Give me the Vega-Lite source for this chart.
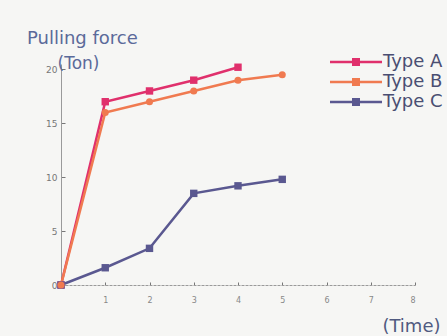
{
  "$schema": "https://vega.github.io/schema/vega-lite/v6.json",
  "autosize": "none",
  "width": 354,
  "height": 221,
  "padding": {"left": 61, "top": 64, "right": 32, "bottom": 51},
  "background": "#f6f6f4",
  "config": {
    "view": {"stroke": null},
    "font": "DejaVu Sans"
  },
  "title": {
    "text": "Pulling force",
    "anchor": "start",
    "frame": "group",
    "orient": "top",
    "dx": -34,
    "dy": 29,
    "offset": 19,
    "baseline": "alphabetic",
    "fontSize": 18,
    "fontWeight": "normal",
    "color": "#5b6a9a"
  },
  "data": {
    "values": [
      {"time": 0, "force": 0, "type": "Type A"},
      {"time": 1, "force": 17, "type": "Type A"},
      {"time": 2, "force": 18, "type": "Type A"},
      {"time": 3, "force": 19, "type": "Type A"},
      {"time": 4, "force": 20.2, "type": "Type A"},
      {"time": 0, "force": 0, "type": "Type B"},
      {"time": 1, "force": 16, "type": "Type B"},
      {"time": 2, "force": 17, "type": "Type B"},
      {"time": 3, "force": 18, "type": "Type B"},
      {"time": 4, "force": 19, "type": "Type B"},
      {"time": 5, "force": 19.5, "type": "Type B"},
      {"time": 0, "force": 0, "type": "Type C"},
      {"time": 1, "force": 1.6, "type": "Type C"},
      {"time": 2, "force": 3.4, "type": "Type C"},
      {"time": 3, "force": 8.5, "type": "Type C"},
      {"time": 4, "force": 9.2, "type": "Type C"},
      {"time": 5, "force": 9.8, "type": "Type C"}
    ]
  },
  "encoding": {
    "x": {
      "field": "time", "type": "quantitative",
      "scale": {"domain": [0, 8], "nice": false, "zero": true},
      "axis": {
        "values": [0, 1, 2, 3, 4, 5, 6, 7, 8],
        "labelExpr": "datum.value == 0 ? '' : datum.label",
        "grid": false,
        "domainColor": "#9a9a9a",
        "domainDash": [3, 1],
        "tickColor": "#777",
        "tickSize": -3,
        "labelPadding": 14,
        "labelFontSize": 8,
        "labelColor": "#888",
        "title": "(Time)",
        "titleFontSize": 18,
        "titleFontWeight": "normal",
        "titleColor": "#505a80",
        "titleAlign": "right",
        "titleBaseline": "alphabetic",
        "titleAnchor": null,
        "titleX": 379,
        "titleY": 46
      }
    },
    "y": {
      "field": "force", "type": "quantitative",
      "scale": {"domain": [0, 20.5], "nice": false},
      "axis": {
        "values": [0, 5, 10, 15, 20],
        "grid": false,
        "domainColor": "#9a9a9a",
        "tickColor": "#777",
        "tickSize": -4,
        "labelPadding": 8,
        "labelFontSize": 9,
        "labelColor": "#777",
        "title": "(Ton)",
        "titleFontSize": 17,
        "titleFontWeight": "normal",
        "titleColor": "#5b6a9a",
        "titleAngle": 0,
        "titleAlign": "left",
        "titleBaseline": "alphabetic",
        "titleAnchor": null,
        "titleX": -4,
        "titleY": 4
      }
    },
    "color": {
      "field": "type", "type": "nominal",
      "scale": {"domain": ["Type A", "Type B", "Type C"], "range": ["#e0306c", "#f07a50", "#5a5890"]},
      "legend": null
    }
  },
  "layer": [
    {
      "mark": {"type": "line", "strokeWidth": 2.5}
    },
    {
      "transform": [{"filter": "datum.type != 'Type B'"}],
      "mark": {"type": "point", "filled": true, "opacity": 1, "size": 55, "shape": "square"},
      "encoding": {
        "color": {
          "field": "type", "type": "nominal",
          "scale": {"domain": ["Type A", "Type B", "Type C"], "range": ["#e0306c", "#f07a50", "#5a5890"]},
          "legend": {
            "orient": "none",
            "legendX": 285,
            "legendY": -12,
            "title": null,
            "symbolType": "M-2.6,-0.13H2.6V0.13H-2.6Z M-0.4,-0.4H0.4V0.4H-0.4Z",
            "symbolSize": 400,
            "symbolStrokeWidth": 0,
            "symbolOpacity": 1,
            "labelFontSize": 18,
            "labelColor": "#4a4e72",
            "labelOffset": 17,
            "rowPadding": 1,
            "labelLimit": 200
          }
        }
      }
    },
    {
      "transform": [{"filter": "datum.type == 'Type B'"}],
      "mark": {"type": "point", "filled": true, "opacity": 1, "size": 50, "shape": "circle"}
    }
  ],
  "resolve": {"legend": {"color": "independent"}}
}
